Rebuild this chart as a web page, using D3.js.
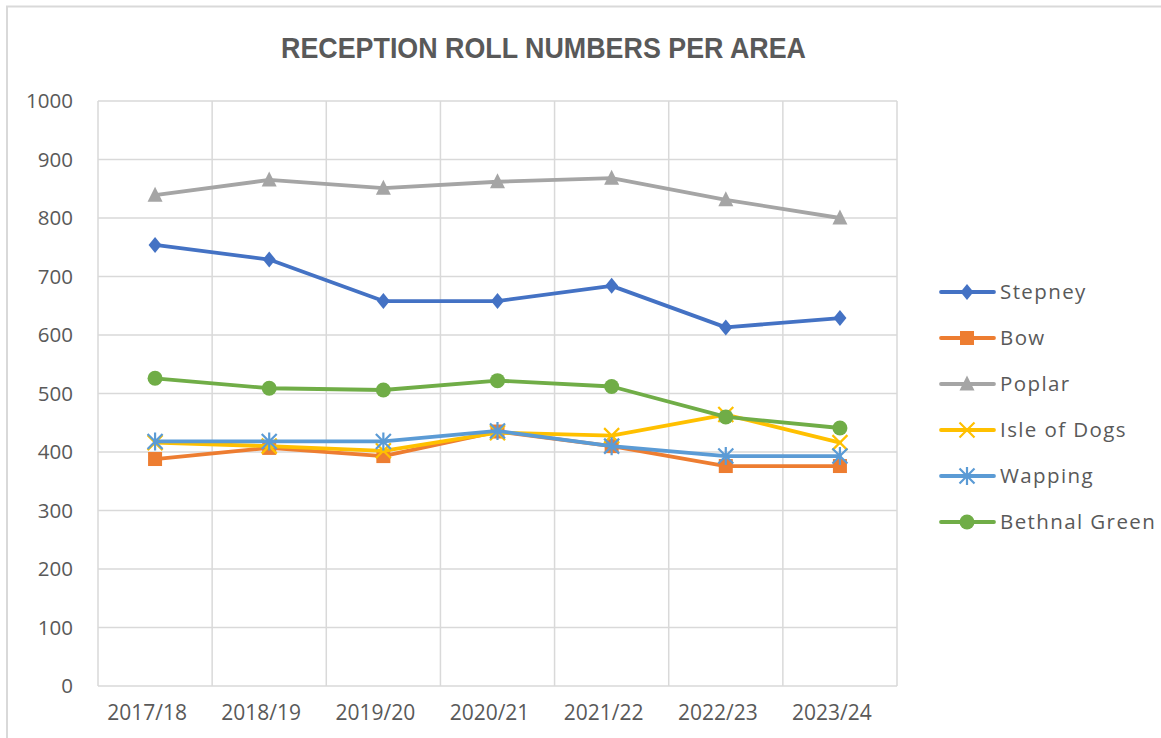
<!DOCTYPE html>
<html><head><meta charset="utf-8">
<script src="https://cdn.jsdelivr.net/npm/d3@7"></script>
<style>body{margin:0;background:#fff}svg{display:block}</style>
</head><body>
<script>
const title = "RECEPTION ROLL NUMBERS PER AREA";
const years = ["2017/18","2018/19","2019/20","2020/21","2021/22","2022/23","2023/24"];
const yTicks = [0,100,200,300,400,500,600,700,800,900,1000];
const stepney = [754,729,658,658,684,613,629];
const bow = [388,407,393,435,410,376,376];
const poplar = [839,865,851,862,868,831,800];
const isleOfDogs = [416,410,402,433,428,464,416];
const wapping = [418,418,418,436,410,393,393];
const bethnalGreen = [526,509,506,522,512,460,441];

const series = [
  {name:"Stepney", values:stepney, color:"#4472C4", marker:"diamond"},
  {name:"Bow", values:bow, color:"#ED7D31", marker:"square"},
  {name:"Poplar", values:poplar, color:"#A5A5A5", marker:"triangle"},
  {name:"Isle of Dogs", values:isleOfDogs, color:"#FFC000", marker:"x"},
  {name:"Wapping", values:wapping, color:"#5B9BD5", marker:"star"},
  {name:"Bethnal Green", values:bethnalGreen, color:"#70AD47", marker:"circle"}
];

const W=1161,H=738;
const svg=d3.select("body").append("svg").attr("width",W).attr("height",H);
svg.append("rect").attr("x",7).attr("y",6.5).attr("width",1300).attr("height",900)
  .attr("fill","#fff").attr("stroke","#d9d9d9").attr("stroke-width",2);

const L=98,R=897,T=101,B=686;
const x=d3.scaleBand().domain(years).range([L,R]);
const y=d3.scaleLinear().domain([0,1000]).range([B,T]);
const grid="#d9d9d9";

svg.append("g").selectAll("line").data(yTicks).join("line")
  .attr("x1",L).attr("x2",R).attr("y1",d=>y(d)).attr("y2",d=>y(d))
  .attr("stroke",grid).attr("stroke-width",1.5);
const bounds=years.map(d=>x(d)).concat([R]);
svg.append("g").selectAll("line").data(bounds).join("line")
  .attr("x1",d=>d).attr("x2",d=>d).attr("y1",T).attr("y2",B)
  .attr("stroke",grid).attr("stroke-width",1.5);

const yAxis=d3.axisLeft(y).tickValues(yTicks).tickFormat(d3.format("d")).tickSize(0).tickPadding(25);
const ga=svg.append("g").attr("transform",`translate(${L},0)`).call(yAxis);
ga.select(".domain").remove();
ga.selectAll("text").attr("font-family","Open Sans").attr("font-size",20.5).attr("fill","#595959");

const xAxis=d3.axisBottom(x).tickSize(0).tickPadding(19);
const gx=svg.append("g").attr("transform",`translate(0,${B})`).call(xAxis);
gx.select(".domain").remove();
gx.selectAll("text").attr("font-family","Open Sans").attr("font-size",21).attr("dx",-8).attr("fill","#595959");

svg.append("text").attr("x",281).attr("y",58)
  .attr("font-family","Liberation Sans").attr("font-weight","bold").attr("font-size",30)
  .attr("textLength",525).attr("lengthAdjust","spacingAndGlyphs")
  .attr("fill","#595959").text(title);

function drawMarker(g,type,color){
  if(type==="diamond") g.append("path").attr("d","M0,-8L6.5,0L0,8L-6.5,0Z").attr("fill",color);
  else if(type==="square") g.append("rect").attr("x",-7).attr("y",-7).attr("width",14).attr("height",14).attr("fill",color);
  else if(type==="triangle") g.append("path").attr("d","M0,-8.5L7.5,6.5L-7.5,6.5Z").attr("fill",color);
  else if(type==="circle") g.append("circle").attr("r",7.5).attr("fill",color);
  else if(type==="x") g.append("path").attr("d","M-7.5,-7.5L7.5,7.5M7.5,-7.5L-7.5,7.5").attr("stroke",color).attr("stroke-width",2.2).attr("fill","none");
  else if(type==="star") g.append("path").attr("d","M-7.5,-7.5L7.5,7.5M7.5,-7.5L-7.5,7.5M0,-9L0,9").attr("stroke",color).attr("stroke-width",2.2).attr("fill","none");
}

const line=d3.line().x((d,i)=>x(years[i])+x.bandwidth()/2).y(d=>y(d));
series.forEach(s=>{
  const g=svg.append("g");
  g.append("path").attr("d",line(s.values)).attr("fill","none").attr("stroke",s.color)
    .attr("stroke-width",3.8).attr("stroke-linejoin","round").attr("stroke-linecap","round");
  s.values.forEach((v,i)=>{
    const m=g.append("g").attr("transform",`translate(${x(years[i])+x.bandwidth()/2},${y(v)})`);
    drawMarker(m,s.marker,s.color);
  });
});

const leg=svg.append("g");
series.forEach((s,i)=>{
  const ly=292+i*46;
  const g=leg.append("g").attr("transform",`translate(0,${ly})`);
  g.append("line").attr("x1",941).attr("x2",994).attr("y1",0).attr("y2",0)
    .attr("stroke",s.color).attr("stroke-width",3.8).attr("stroke-linecap","round");
  const m=g.append("g").attr("transform","translate(967,0)");
  drawMarker(m,s.marker,s.color);
  g.append("text").attr("x",1000).attr("y",0).attr("dy","0.35em")
    .attr("font-family","Open Sans").attr("font-size",20.5).attr("letter-spacing",1.4)
    .attr("fill","#595959").text(s.name);
});
</script>
</body></html>
